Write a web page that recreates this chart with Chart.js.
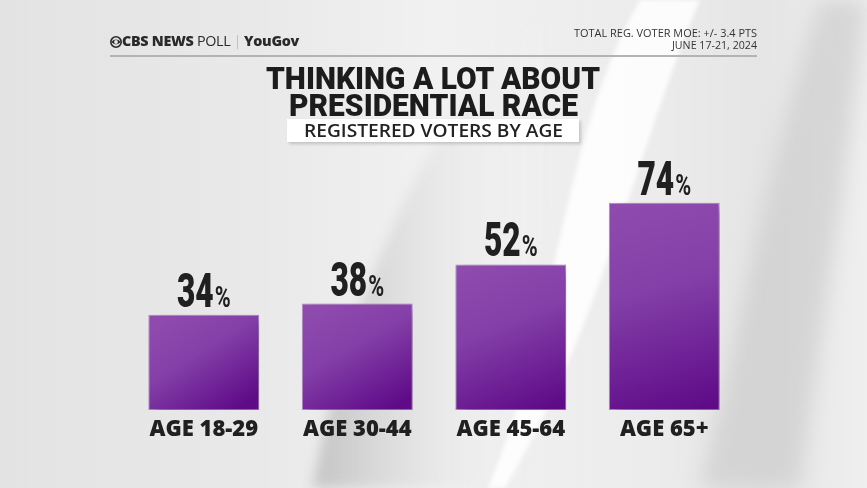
<!DOCTYPE html>
<html><head><meta charset="utf-8">
<script src="https://cdn.jsdelivr.net/npm/chart.js@4.4.1/dist/chart.umd.min.js"></script>
<style>
html,body{margin:0;padding:0;width:867px;height:488px;overflow:hidden;background:#e8e8e8;}
#wrap{position:relative;width:867px;height:488px;}
canvas{position:absolute;left:0;top:0;}
.t{position:absolute;white-space:nowrap;transform-origin:0 0;color:#1f1f1f;line-height:1;}
#title1,#title2{font-family:Roboto,sans-serif;font-weight:900;font-size:32px;color:#1c1c1c;}
#subbox{position:absolute;left:287px;top:119px;width:292px;height:23px;background:#fff;box-shadow:2px 2px 3px rgba(0,0,0,0.18);}
#sub{font-family:"Open Sans",sans-serif;font-weight:600;font-size:18px;color:#222;}
#hdr{font-family:"Open Sans",sans-serif;font-size:14px;color:#2a2a2a;letter-spacing:-0.3px;}
#hdr b{font-weight:800;}
#hdr .l{font-weight:400;}
#hdr .bar{color:#aaa;font-weight:300;margin:0 3px;}
#moe1,#moe2{font-family:"Open Sans",sans-serif;font-size:11px;color:#333;}
#rule{position:absolute;left:110px;top:55px;width:647px;height:2px;background:#b3b3b3;}
</style></head>
<body><div id="wrap">
<canvas id="c" width="867" height="488"></canvas>
<div id="rule"></div>
<svg style="position:absolute;left:110px;top:36px" width="12" height="12" viewBox="0 0 12 12">
 <circle cx="6" cy="6" r="5.2" fill="none" stroke="#2a2a2a" stroke-width="1.6"/>
 <path d="M1.2 6 Q6 1.2 10.8 6 Q6 10.8 1.2 6Z" fill="#2a2a2a"/>
 <circle cx="6" cy="6" r="1.9" fill="#e9e9e9"/>
</svg>
<div class="t" id="hdr" data-l="122" data-top="34" data-w="177"><b>CBS NEWS</b> <span class="l">POLL</span><span class="bar">|</span><b>YouGov</b></div>
<div class="t" id="moe1" data-r="757" data-top="27" data-w="183">TOTAL REG. VOTER MOE: +/- 3.4 PTS</div>
<div class="t" id="moe2" data-r="757" data-top="39" data-w="85">JUNE 17-21, 2024</div>
<div class="t" id="title1" data-l="266" data-top="62" data-w="334">THINKING A LOT ABOUT</div>
<div class="t" id="title2" data-l="289" data-top="89" data-w="289">PRESIDENTIAL RACE</div>
<div id="subbox"></div>
<div class="t" id="sub" data-l="304" data-top="121" data-w="259">REGISTERED VOTERS BY AGE</div>
</div>
<script>
// ---- data ----
const categories = ["AGE 18-29", "AGE 30-44", "AGE 45-64", "AGE 65+"];
const values = [34, 38, 52, 74];
const valueLabels = ["34", "38", "52", "74"];
const yMin = 0, yMax = 100;

// fit header/title texts to measured widths
document.querySelectorAll('.t').forEach(el => {
  const w = el.getBoundingClientRect().width;
  const target = +el.dataset.w;
  const s = target / w;
  el.style.transform = 'scaleX(' + s + ')';
  el.style.top = el.dataset.top + 'px';
  if (el.dataset.l) el.style.left = el.dataset.l + 'px';
  else el.style.left = (+el.dataset.r - target) + 'px';
});

const bgPlugin = {
  id: 'bg',
  beforeDraw(chart) {
    const ctx = chart.ctx, W = chart.width, H = chart.height;
    ctx.save();
    let g = ctx.createLinearGradient(0, 0, W, 0);
    g.addColorStop(0, '#e3e3e3');
    g.addColorStop(0.3, '#e9e9e9');
    g.addColorStop(0.5, '#f1f1f1');
    g.addColorStop(0.75, '#ececec');
    g.addColorStop(0.88, '#e5e5e5');
    g.addColorStop(1, '#efefef');
    ctx.fillStyle = g; ctx.fillRect(0, 0, W, H);
    // big soft gray crescent
    ctx.beginPath();
    ctx.moveTo(555, 0);
    ctx.bezierCurveTo(420, 120, 350, 300, 312, 488);
    ctx.lineTo(520, 488);
    ctx.bezierCurveTo(520, 300, 560, 120, 660, 0);
    ctx.closePath();
    g = ctx.createLinearGradient(330, 0, 560, 0);
    g.addColorStop(0, 'rgba(195,195,195,0.85)');
    g.addColorStop(0.35, 'rgba(215,215,215,0.55)');
    g.addColorStop(1, 'rgba(255,255,255,0.0)');
    ctx.filter = 'blur(6px)';
    ctx.fillStyle = g; ctx.fill();
    // white swoosh
    ctx.filter = 'blur(2px)';
    ctx.beginPath();
    ctx.moveTo(640, 0);
    ctx.bezierCurveTo(560, 140, 560, 320, 488, 488);
    ctx.lineTo(505, 488);
    ctx.bezierCurveTo(600, 330, 640, 140, 700, 0);
    ctx.closePath();
    ctx.fillStyle = 'rgba(255,255,255,0.85)'; ctx.fill();
    // right soft gray arc
    ctx.filter = 'blur(10px)';
    ctx.beginPath();
    ctx.moveTo(820, 0);
    ctx.bezierCurveTo(770, 150, 740, 330, 700, 488);
    ctx.lineTo(800, 488);
    ctx.bezierCurveTo(820, 330, 850, 150, 867, 0);
    ctx.closePath();
    ctx.fillStyle = 'rgba(200,200,200,0.6)'; ctx.fill();
    ctx.restore();
  }
};

const shadowPlugin = {
  id: 'shadow',
  beforeDatasetsDraw(chart) {
    const ctx = chart.ctx; ctx.save();
    ctx.shadowColor = 'rgba(0,0,0,0.35)';
    ctx.shadowBlur = 12; ctx.shadowOffsetX = 6; ctx.shadowOffsetY = 5;
  },
  afterDatasetsDraw(chart) { chart.ctx.restore(); }
};

const labelPlugin = {
  id: 'vlabels',
  afterDatasetsDraw(chart) {
    const ctx = chart.ctx;
    const meta = chart.getDatasetMeta(0);
    ctx.save();
    ctx.fillStyle = '#202020';
    ctx.textBaseline = 'alphabetic';
    const sx = 0.66, sp = 0.72;
    const fn = '900 48px Roboto', fp = '700 30px Roboto';
    meta.data.forEach((el, i) => {
      ctx.font = fn;
      const wn = ctx.measureText(valueLabels[i]).width * sx;
      ctx.font = fp;
      const wp = ctx.measureText('%').width * sp;
      const tot = wn + 1 + wp;
      const x0 = el.x - tot / 2, yb = el.y - 8;
      ctx.save(); ctx.translate(x0, yb); ctx.scale(sx, 1);
      ctx.font = fn; ctx.fillText(valueLabels[i], 0, 0);
      ctx.restore();
      ctx.save(); ctx.translate(x0 + wn + 1, yb); ctx.scale(sp, 1);
      ctx.font = fp; ctx.fillText('%', 0, 0);
      ctx.restore();
    });
    ctx.restore();
  }
};

function barGradient(context) {
  const chart = context.chart;
  const xs = chart.scales.x, ys = chart.scales.y;
  const fallback = '#7b2fa3';
  if (!xs || !ys || context.dataIndex === undefined) return fallback;
  const v = context.raw;
  const top = ys.getPixelForValue(v), bottom = ys.getPixelForValue(0);
  const cx = xs.getPixelForValue(context.dataIndex);
  if (![top, bottom, cx].every(Number.isFinite)) return fallback;
  const g = chart.ctx.createLinearGradient(cx - 30, top, cx + 30, bottom);
  g.addColorStop(0, '#8f4aae');
  g.addColorStop(0.4, '#8440a8');
  g.addColorStop(1, '#5f0b88');
  return g;
}

new Chart(document.getElementById('c'), {
  type: 'bar',
  data: {
    labels: categories,
    datasets: [{
      data: values,
      backgroundColor: barGradient,
      borderColor: 'rgba(178,128,205,0.9)',
      borderWidth: 1,
      borderSkipped: false,
      categoryPercentage: 1,
      barPercentage: 0.722
    }]
  },
  options: {
    responsive: false,
    animation: false,
    events: [],
    layout: { padding: { left: 127, right: 126, top: 130, bottom: 0 } },
    plugins: { legend: { display: false }, tooltip: { enabled: false } },
    scales: {
      x: {
        grid: { display: false, drawTicks: false },
        border: { display: false },
        ticks: { color: '#202020', padding: 7, font: { family: 'Open Sans', weight: '800', size: 22 } },
        afterFit(s) { s.height = 78; }
      },
      y: { display: false, min: yMin, max: yMax }
    }
  },
  plugins: [bgPlugin, shadowPlugin, labelPlugin]
});
</script>
</body></html>
